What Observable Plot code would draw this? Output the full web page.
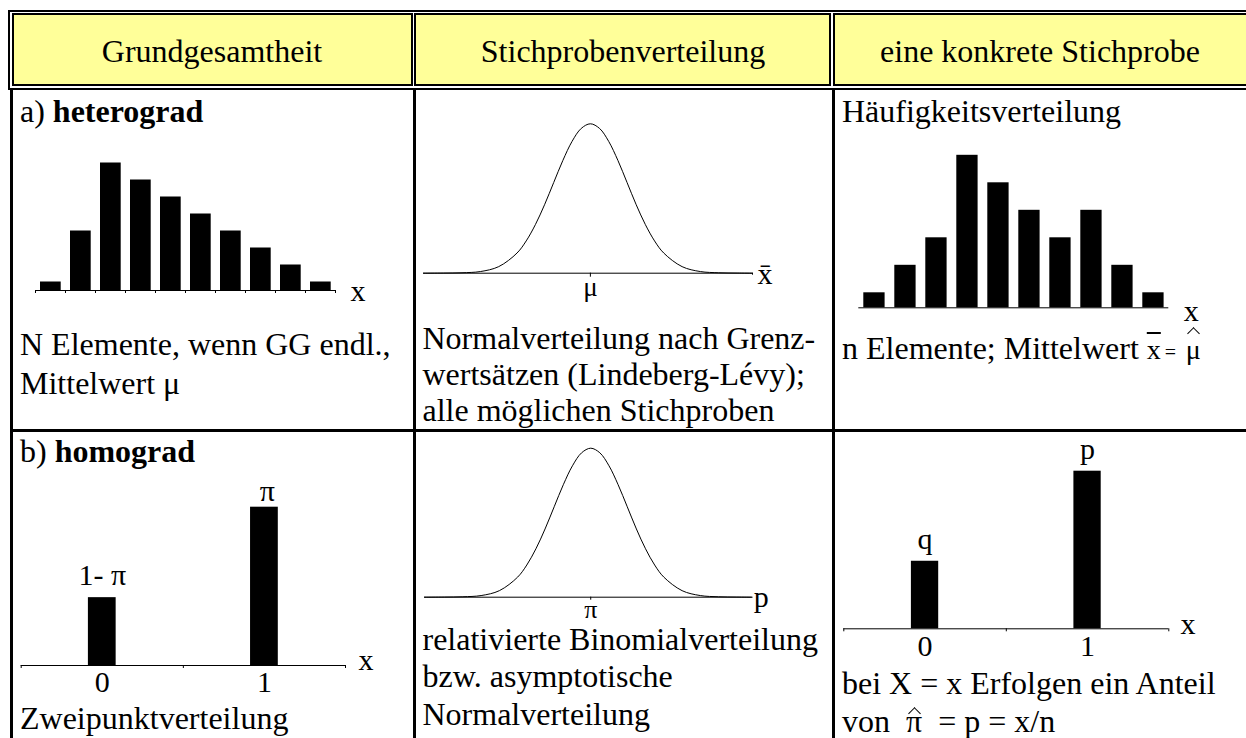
<!DOCTYPE html>
<html><head><meta charset="utf-8">
<script src="https://cdn.jsdelivr.net/npm/d3@7"></script>
<script src="https://cdn.jsdelivr.net/npm/@observablehq/plot@0.6"></script>
<style>
html,body{margin:0;padding:0;background:#fff}
#page{position:relative;width:1246px;height:738px;overflow:hidden;font-family:"Liberation Serif","Times New Roman",serif;color:#000}
.ln{position:absolute;background:#000}
.cell{position:absolute;box-sizing:border-box;border:2px solid #000;background:#ffff99}
.t{position:absolute;white-space:nowrap;font-size:32px;line-height:30px}
.h{position:absolute;text-align:center;white-space:nowrap;font-size:32px;line-height:30px}
.m{font-size:28px}
.m small{font-size:20px}
.ov{text-decoration:overline}
.acc{position:relative;display:inline-block}
.acc::after{content:"";position:absolute;left:50%;width:9px;height:9px;margin-left:-4.5px;box-sizing:border-box;border-left:1.3px solid #000;border-top:1.3px solid #000;transform:rotate(45deg)}
.acc.mu::after{top:-5.5px}
.acc.pi::after{top:3.5px}
</style></head><body><div id="page">
<!-- header frame -->
<div class="ln" style="left:8px;top:10px;width:1300px;height:2px"></div>
<div class="ln" style="left:8px;top:10px;width:2px;height:80px"></div>
<div class="ln" style="left:8px;top:88px;width:1300px;height:2px"></div>
<div class="cell" style="left:12px;top:13px;width:401px;height:73px"></div>
<div class="cell" style="left:414px;top:13px;width:417px;height:73px"></div>
<div class="cell" style="left:833px;top:13px;width:500px;height:73px"></div>
<div class="h" style="left:13px;top:35.9px;width:398px">Grundgesamtheit</div>
<div class="h" style="left:416px;top:35.9px;width:414px">Stichprobenverteilung</div>
<div class="h" style="left:835px;top:35.9px;width:410px">eine konkrete Stichprobe</div>
<!-- body grid -->
<div class="ln" style="left:10px;top:90px;width:3px;height:700px"></div>
<div class="ln" style="left:413px;top:90px;width:3px;height:700px"></div>
<div class="ln" style="left:832px;top:90px;width:3px;height:700px"></div>
<div class="ln" style="left:10px;top:429px;width:1300px;height:3px"></div>
<!-- texts (one div per line, top = baseline - 25.8) -->
<div class="t" style="left:20px;top:95.9px">a) <b>heterograd</b></div>
<div class="t" style="left:20px;top:329.2px">N Elemente, wenn GG endl.,</div>
<div class="t" style="left:20px;top:367.5px">Mittelwert μ</div>
<div class="t" style="left:422.5px;top:322.5px">Normalverteilung nach Grenz-</div>
<div class="t" style="left:422.5px;top:359.2px">wertsätzen (Lindeberg-Lévy);</div>
<div class="t" style="left:422.5px;top:394.7px">alle möglichen Stichproben</div>
<div class="t" style="left:842px;top:95.9px">Häufigkeitsverteilung</div>
<div class="t" style="left:842px;top:332.5px">n Elemente; Mittelwert <span class="m"><span class="ov">x</span><small>&thinsp;=&thinsp;</small>&thinsp;<span class="acc mu">μ</span></span></div>
<div class="t" style="left:20px;top:435.9px">b) <b>homograd</b></div>
<div class="t" style="left:20px;top:702.5px">Zweipunktverteilung</div>
<div class="t" style="left:422.5px;top:624.2px">relativierte Binomialverteilung</div>
<div class="t" style="left:422.5px;top:660.9px">bzw. asymptotische</div>
<div class="t" style="left:422.5px;top:699.2px">Normalverteilung</div>
<div class="t" style="left:842px;top:667.5px">bei X = x Erfolgen ein Anteil</div>
<div class="t" style="left:842px;top:705.9px">von&nbsp; <span class="acc pi">π</span>&nbsp; = p = x/n</div>
</div>
<script>
// ---------- data ----------
const classIndex = [0, 1, 2, 3, 4, 5, 6, 7, 8, 9];
const populationFreq = [1, 7, 15, 13, 11, 9, 7, 5, 3, 1];
const sampleFreq = [3, 8.5, 14, 30.5, 25, 19.5, 14, 19.5, 8.5, 3];
const normalZ = [-4.55, -4, -3.5, -3, -2.5, -2, -1.75, -1.5, -1.25, -1, -0.75, -0.5, -0.25, 0, 0.25, 0.5, 0.75, 1, 1.25, 1.5, 1.75, 2, 2.5, 3, 3.5, 4, 4.42];
const normalHeight = [0, 0.1, 0.3, 1.1, 4.4, 13.5, 21.6, 32.5, 45.8, 60.7, 75.5, 88.2, 96.9, 100, 96.9, 88.2, 75.5, 60.7, 45.8, 32.5, 21.6, 13.5, 4.4, 1.1, 0.3, 0.1, 0];
const pointValues = [0, 1];
const pointTickLabels = ["0", "1"];
const populationShare = [0.3, 0.7];
const populationShareLabels = ["1- π", "π"];
const sampleShare = [0.3, 0.7];
const sampleShareLabels = ["q", "p"];
const meanTickLabel = "μ";
const shareTickLabel = "π";
const xAxisLabel = "x";
const meanAxisLabel = "x\u0304";
const shareAxisLabel = "p";

// ---------- helpers ----------
const page = document.getElementById("page");
const baseStyle = {fontFamily: "Liberation Serif", fontSize: "30px", color: "black", background: "transparent", overflow: "visible"};
function place(svg, left, top) {
  svg.style.position = "absolute";
  svg.style.left = left + "px";
  svg.style.top = top + "px";
  page.appendChild(svg);
}
const popData = classIndex.map((c, i) => ({c, v: populationFreq[i]}));
const smpData = classIndex.map((c, i) => ({c, v: sampleFreq[i]}));
const normalData = normalZ.map((z, i) => ({z, h: normalHeight[i]}));
const popShareData = pointValues.map((x, i) => ({x, p: populationShare[i], label: populationShareLabels[i]}));
const smpShareData = pointValues.map((x, i) => ({x, p: sampleShare[i], label: sampleShareLabels[i]}));
const tickLab = d => pointTickLabels[pointValues.indexOf(d)];

// A: heterograd population
place(Plot.plot({
  width: 360, height: 160, marginLeft: 15, marginRight: 45, marginTop: 12.5, marginBottom: 20,
  x: {domain: [0, 10], axis: null}, y: {domain: [0, 15], axis: null},
  style: baseStyle,
  marks: [
    Plot.rectY(popData, {x1: "c", x2: d => d.c + 1, y: "v", fill: "black", insetLeft: 5, insetRight: 4.3}),
    Plot.ruleY([0], {stroke: "black"}),
    Plot.axisX({ticks: d3.range(0, 11), tickSize: 3, fill: "none", stroke: "black", label: null}),
    Plot.text([xAxisLabel], {text: d => d, frameAnchor: "bottom-right", textAnchor: "start", lineAnchor: "bottom", dx: 15, dy: 10.5, fontSize: 30})
  ]
}), 20, 150);

// B: normal sampling distribution of the mean
place(Plot.plot({
  width: 400, height: 200, marginLeft: 18, marginRight: 53, marginTop: 13.3, marginBottom: 37.3,
  x: {domain: [-4.55, 4.42], axis: null}, y: {domain: [0, 100], axis: null},
  style: baseStyle,
  marks: [
    Plot.ruleY([0], {stroke: "black"}),
    Plot.lineY(normalData, {x: "z", y: "h", curve: "catmull-rom", stroke: "black", strokeWidth: 1}),
    Plot.axisX({ticks: [0], tickSize: 4, tickPadding: 0, tickFormat: () => meanTickLabel, fontSize: 27, label: null, stroke: "black", fill: "black"}),
    Plot.axisX({ticks: [4.42], tickSize: 2, fill: "none", stroke: "black", label: null}),
    Plot.text([meanAxisLabel], {text: d => d, frameAnchor: "bottom-right", textAnchor: "start", lineAnchor: "bottom", dx: 5, dy: 10.6, fontSize: 30})
  ]
}), 405, 110);

// C: concrete sample frequencies
place(Plot.plot({
  width: 380, height: 190, marginLeft: 13.3, marginRight: 56.7, marginTop: 14.8, marginBottom: 22.7,
  x: {domain: [0, 10], axis: null}, y: {domain: [0, 30.5], axis: null},
  style: baseStyle,
  marks: [
    Plot.rectY(smpData, {x1: "c", x2: d => d.c + 1, y: "v", fill: "black", insetLeft: 5, insetRight: 4.7}),
    Plot.ruleY([0], {stroke: "black"}),
    Plot.text([xAxisLabel], {text: d => d, frameAnchor: "bottom-right", textAnchor: "start", lineAnchor: "bottom", dx: 15, dy: 12.7, fontSize: 30})
  ]
}), 845, 140);

// D: two-point distribution
place(Plot.plot({
  width: 390, height: 230, marginLeft: 15.7, marginRight: 50, marginTop: 36.7, marginBottom: 35,
  x: {domain: [-0.5, 1.5], axis: null}, y: {domain: [0, 0.7], axis: null},
  style: baseStyle,
  marks: [
    Plot.rectY(popShareData, {x1: d => d.x - 0.5, x2: d => d.x + 0.5, y: "p", fill: "black", insetLeft: 67.2, insetRight: 67.2}),
    Plot.ruleY([0], {stroke: "black"}),
    Plot.axisX({ticks: [-0.5, 0.5, 1.5], tickSize: 3, fill: "none", stroke: "black", label: null}),
    Plot.axisX({ticks: pointValues, tickSize: 0, tickPadding: 5.4, tickFormat: tickLab, fontSize: 30, fill: "black", label: null}),
    Plot.text(popShareData.filter(d => d.x === 0), {x: "x", y: "p", text: "label", lineAnchor: "bottom", dy: -12.4, fontSize: 30}),
    Plot.text(popShareData.filter(d => d.x === 1), {x: "x", y: "p", text: "label", lineAnchor: "bottom", dy: -6.7, dx: 3, fontSize: 30}),
    Plot.text([xAxisLabel], {text: d => d, frameAnchor: "bottom-right", textAnchor: "start", lineAnchor: "bottom", dx: 13, dy: 4, fontSize: 30})
  ]
}), 5, 470);

// E: relative binomial / asymptotic normal
place(Plot.plot({
  width: 400, height: 200, marginLeft: 19, marginRight: 53.3, marginTop: 17.7, marginBottom: 33.3,
  x: {domain: [-4.55, 4.42], axis: null}, y: {domain: [0, 100], axis: null},
  style: baseStyle,
  marks: [
    Plot.ruleY([0], {stroke: "black"}),
    Plot.lineY(normalData, {x: "z", y: "h", curve: "catmull-rom", stroke: "black", strokeWidth: 1}),
    Plot.axisX({ticks: [0], tickSize: 3, tickPadding: -1, tickFormat: () => shareTickLabel, fontSize: 26, label: null, stroke: "black", fill: "black"}),
    Plot.text([shareAxisLabel], {text: d => d, frameAnchor: "bottom-right", textAnchor: "start", lineAnchor: "bottom", dx: 1.5, dy: 9.5, fontSize: 30})
  ]
}), 405, 430);

// F: concrete sample shares
place(Plot.plot({
  width: 400, height: 230, marginLeft: 13.3, marginRight: 61.7, marginTop: 40.7, marginBottom: 31.7,
  x: {domain: [-0.5, 1.5], axis: null}, y: {domain: [0, 0.7], axis: null},
  style: baseStyle,
  marks: [
    Plot.rectY(smpShareData, {x1: d => d.x - 0.5, x2: d => d.x + 0.5, y: "p", fill: "black", insetLeft: 67.6, insetRight: 67.6}),
    Plot.ruleY([0], {stroke: "black"}),
    Plot.axisX({ticks: [-0.5, 0.5, 1.5], tickSize: 3, fill: "none", stroke: "black", label: null}),
    Plot.axisX({ticks: pointValues, tickSize: 0, tickPadding: 5.4, tickFormat: tickLab, fontSize: 30, fill: "black", label: null}),
    Plot.text(smpShareData, {x: "x", y: "p", text: "label", lineAnchor: "bottom", dy: -12.4, fontSize: 30}),
    Plot.text([xAxisLabel], {text: d => d, frameAnchor: "bottom-right", textAnchor: "start", lineAnchor: "bottom", dx: 11.7, dy: 5, fontSize: 30})
  ]
}), 830, 430);
</script>
</body></html>
